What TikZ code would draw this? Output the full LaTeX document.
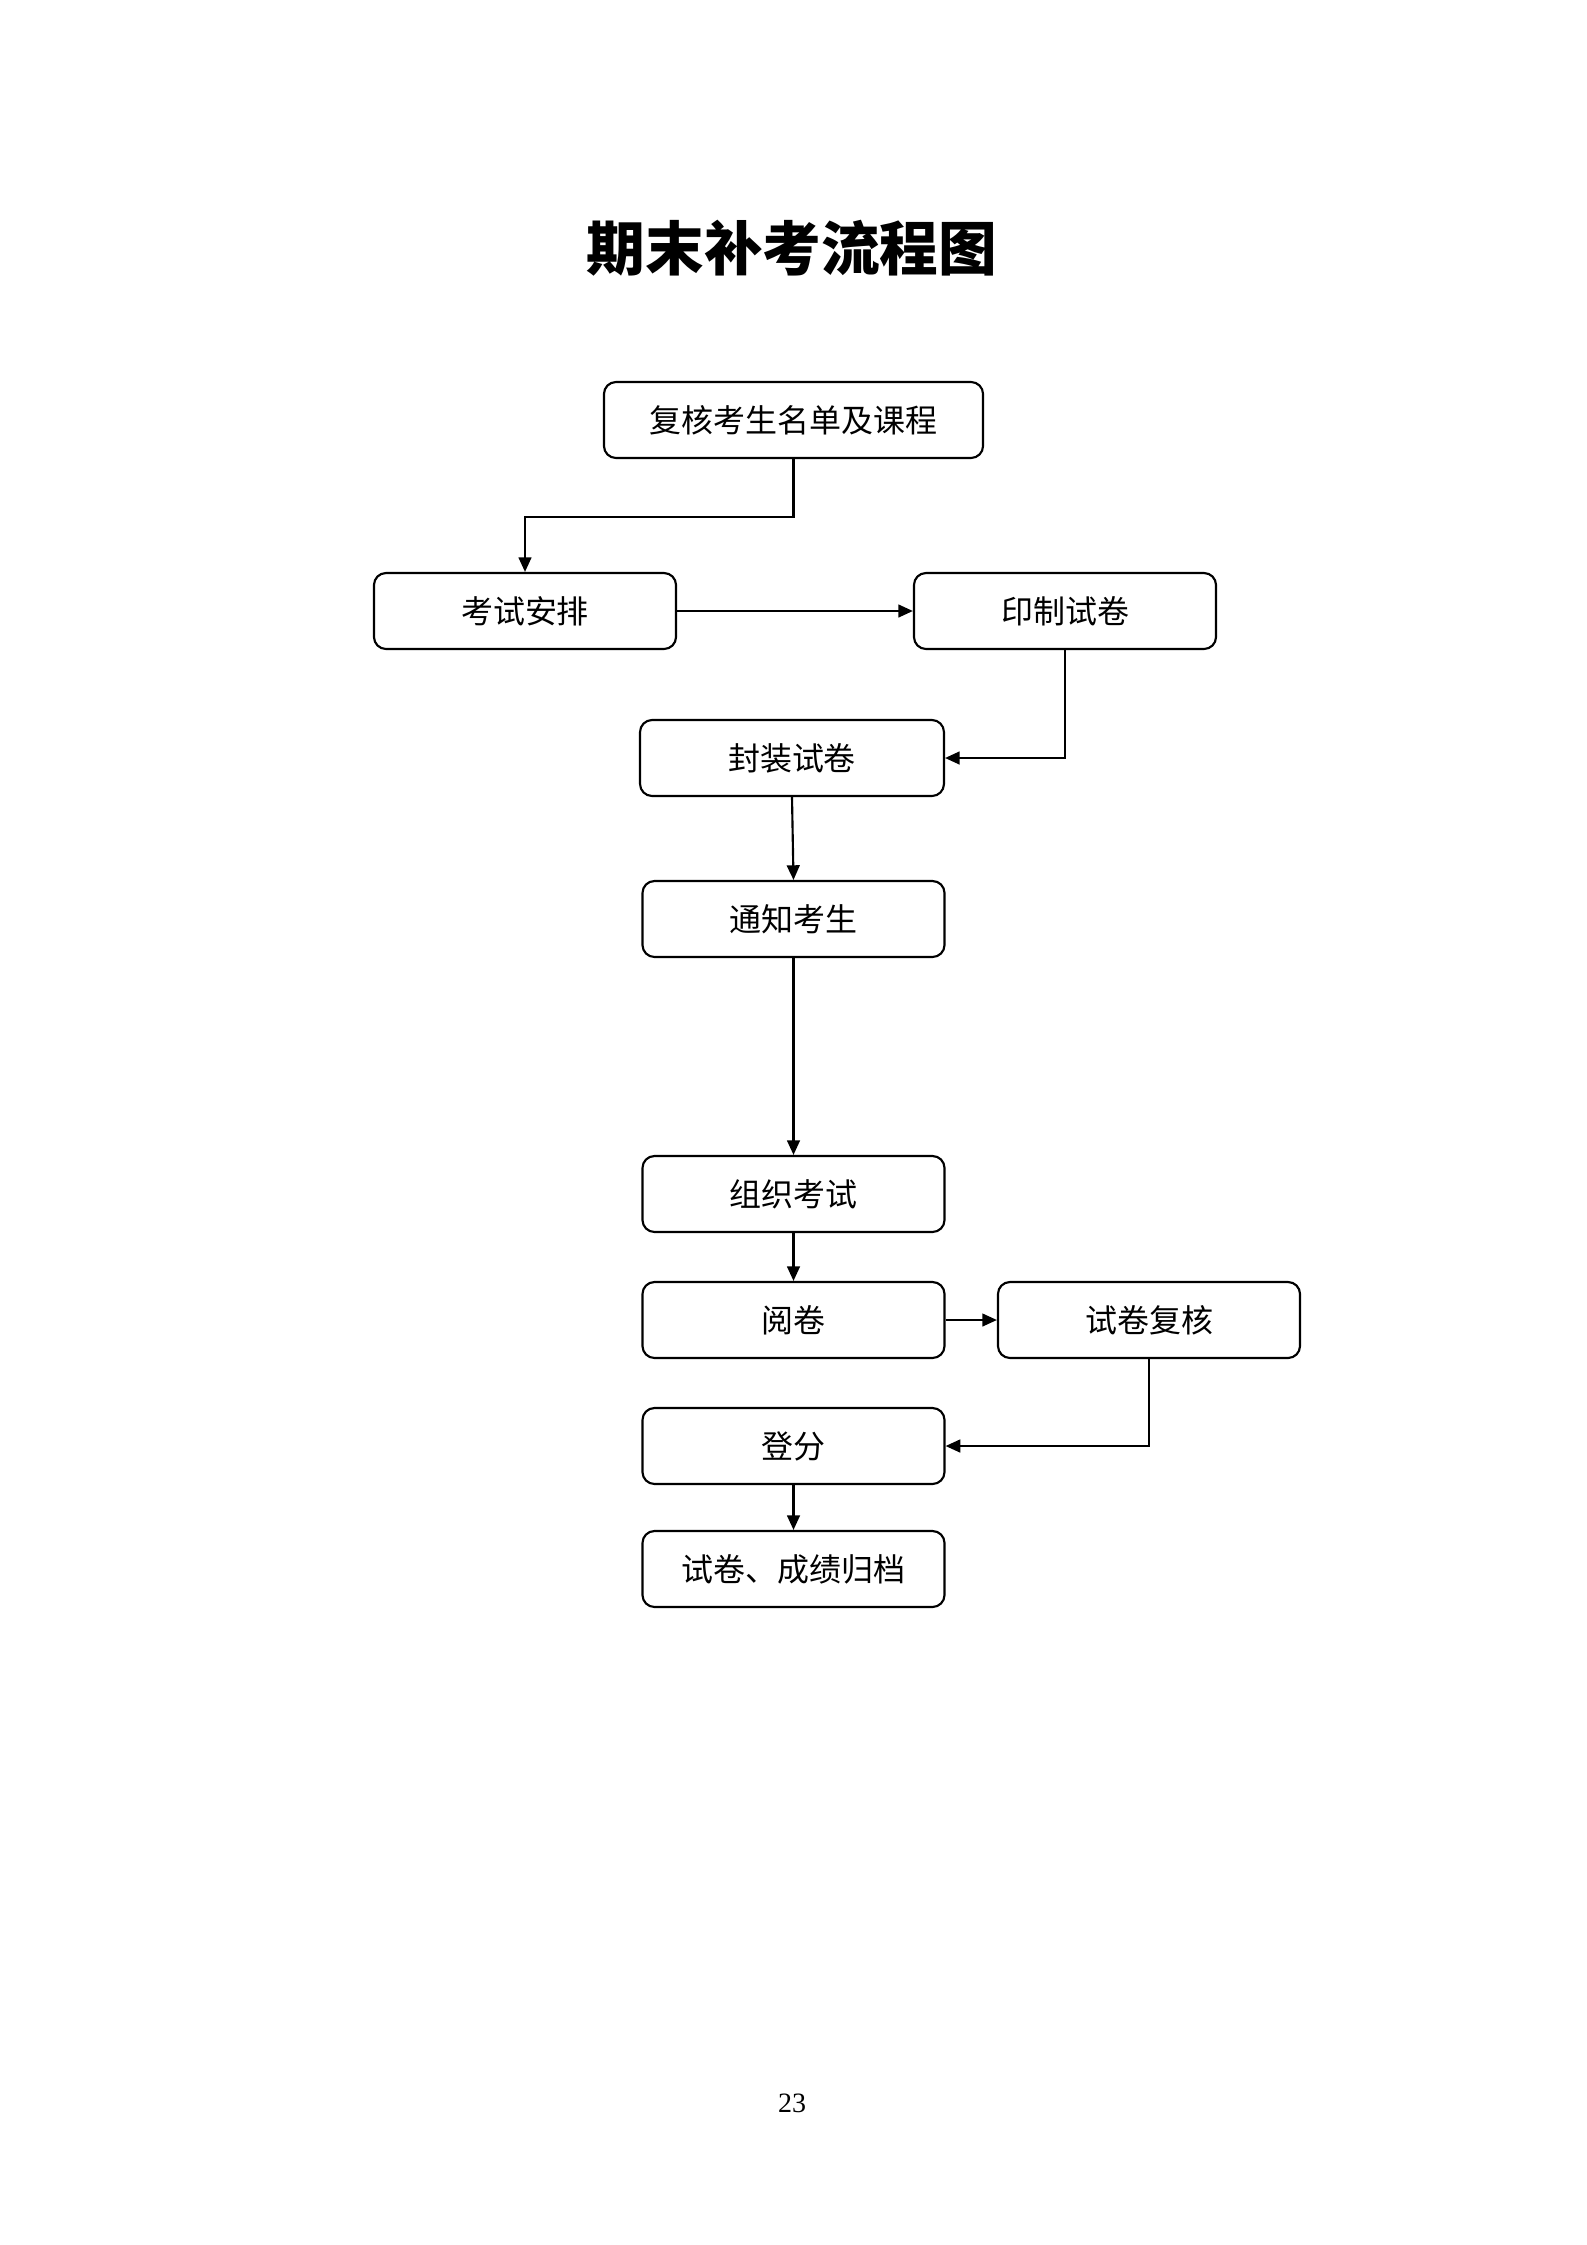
\documentclass[tikz,border=0pt]{standalone}
\usepackage{fontspec}
\setmainfont{Liberation Serif}
\newfontfamily\cjk{Noto Sans CJK SC}
\usetikzlibrary{arrows.meta}
\begin{document}
\begin{tikzpicture}[x=0.3751pt,y=-0.3751pt,
  box/.style={draw=black,line width=0.8pt,rounded corners=4.5pt,inner sep=0pt,
    minimum width=113.3pt,minimum height=28.5pt,font=\cjk\fontsize{12}{14}\selectfont},
  arr/.style={draw=black,line width=0.8pt,-{Triangle[length=5.5pt,width=4.8pt]}}]
\useasboundingbox (0,0) rectangle (1587,2245);
\node[font=\cjk\bfseries\fontsize{22}{26}\selectfont] (title) at (792,248) {期末补考流程图};
\node[box,minimum width=142.2pt] (b1) at (793.5,420) {复核考生名单及课程};
\node[box] (b2) at (525,611) {考试安排};
\node[box] (b3) at (1065,611) {印制试卷};
\node[box,minimum width=114pt] (b4) at (792,758) {封装试卷};
\node[box] (b5) at (793.5,919) {通知考生};
\node[box] (b6) at (793.5,1194) {组织考试};
\node[box] (b7) at (793.5,1320) {阅卷};
\node[box] (b8) at (1149,1320) {试卷复核};
\node[box] (b9) at (793.5,1446) {登分};
\node[box] (b10) at (793.5,1569) {试卷、成绩归档};
\node[font=\fontsize{10.5}{12}\selectfont] (pg) at (792,2103) {23};
\draw[arr] (b1.south) -- ++(0,58) -| (b2.north);
\draw[arr] (b2.east) -- (b3.west);
\draw[arr] (b3.south) |- (b4.east);
\draw[arr] (b4.south) -- (b5.north);
\draw[arr] (b5.south) -- (b6.north);
\draw[arr] (b6.south) -- (b7.north);
\draw[arr] (b7.east) -- (b8.west);
\draw[arr] (b8.south) |- (b9.east);
\draw[arr] (b9.south) -- (b10.north);
\end{tikzpicture}
\end{document}
